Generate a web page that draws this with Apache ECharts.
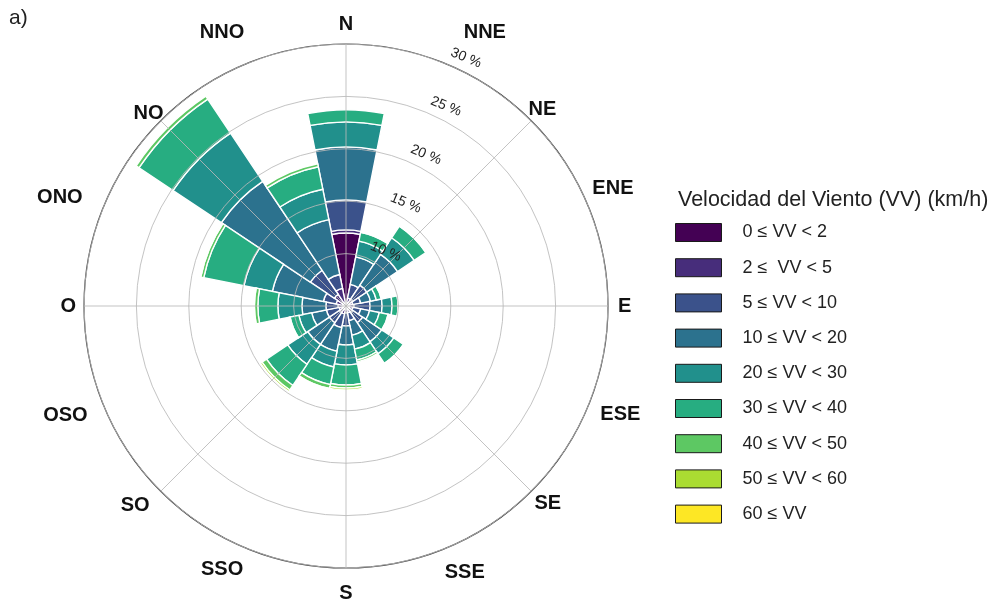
<!DOCTYPE html>
<html>
<head>
<meta charset="utf-8">
<script src="https://cdn.jsdelivr.net/npm/echarts@6/dist/echarts.min.js"></script>
<style>
  html, body { margin: 0; padding: 0; background: #ffffff; }
  #chart { width: 995px; height: 601px; }
</style>
</head>
<body>
<div id="chart"></div>
<script>
// Wind direction sectors, clockwise from north
const directions = ['N', 'NNE', 'NE', 'ENE', 'E', 'ESE', 'SE', 'SSE', 'S', 'SSO', 'SO', 'OSO', 'O', 'ONO', 'NO', 'NNO'];

// Wind speed classes and their viridis colours
const speedClasses = ['0 ≤ VV < 2', '2 ≤  VV < 5', '5 ≤ VV < 10', '10 ≤ VV < 20', '20 ≤ VV < 30',
                      '30 ≤ VV < 40', '40 ≤ VV < 50', '50 ≤ VV < 60', '60 ≤ VV'];
const classColors = ['#440154', '#472D7B', '#3B528B', '#2C728E', '#21908C',
                     '#27AD81', '#5DC863', '#AADC32', '#FDE725'];

// Frequency (%) of each speed class, per direction (same order as `directions`)
const vv0to2   = [6.97, 0.29, 0.29, 0.29, 0.29, 0.29, 0.29, 0.29, 0.29, 0.29, 0.29, 0.29, 0.29, 0.29, 0.38, 0.19];
const vv2to5   = [0.29, 0.48, 0.48, 0.38, 0.48, 0.38, 0.48, 0.38, 0.38, 0.48, 0.48, 0.38, 0.48, 0.67, 0.95, 1.53];
const vv5to10  = [2.86, 1.34, 1.62, 0.76, 1.53, 0.76, 1.15, 0.76, 1.24, 1.34, 1.15, 1.24, 1.15, 1.24, 2.77, 1.34];
const vv10to20 = [5.06, 2.67, 3.53, 0.95, 1.15, 0.86, 2.19, 1.43, 1.81, 2.29, 2.48, 1.43, 2.29, 4.96, 10.21, 5.34];
const vv20to30 = [2.39, 1.53, 1.91, 0.57, 0.95, 0.95, 1.38, 1.34, 1.91, 1.53, 2.29, 1.24, 2.29, 2.77, 5.53, 2.96];
const vv30to40 = [1.15, 0.86, 1.34, 0.48, 0.57, 0.86, 1.10, 1.05, 1.91, 1.72, 2.43, 0.86, 1.91, 3.91, 3.91, 2.19];
const vv40to50 = [0, 0.05, 0.10, 0.05, 0.05, 0.10, 0.10, 0.19, 0.29, 0.38, 0.52, 0.10, 0.33, 0.29, 0.33, 0.29];
const vv50to60 = [0, 0, 0, 0, 0, 0, 0, 0, 0.19, 0.10, 0.19, 0, 0.10, 0.10, 0, 0];
const vv60up   = [0, 0, 0, 0, 0, 0, 0, 0, 0, 0, 0, 0, 0, 0, 0, 0];

const classValues = [vv0to2, vv2to5, vv5to10, vv10to20, vv20to30, vv30to40, vv40to50, vv50to60, vv60up];

// Radial scale (%): the centre of the rose sits at radialMin
const radialMin = 5;
const radialMax = 30;
const radialStep = 5;

const CENTER = [346, 306];
const RADIUS = 262;
const FONT = 'Liberation Sans, Arial, Helvetica, sans-serif';

// Extra spacing [top, right, bottom, left] around each compass label
const compassLabelPadding = {
  N:   [0, 0, 14, 0],  NNE: [0, 0, 25, 19], NE:  [0, 0, 4, 0],   ENE: [0, 0, 9, 8],
  E:   [0, 0, 0, 14],  ESE: [0, 0, 0, 16],  SE:  [5, 0, 0, 6],   SSE: [18, 0, 0, 0],
  S:   [19, 0, 0, 0],  SSO: [15, 4, 0, 0],  SO:  [7, 14, 0, 0],  OSO: [1, 20, 0, 0],
  O:   [3, 12, 0, 0],  ONO: [0, 25, 0, 0],  NO:  [0, 0, 0, 0],   NNO: [0, 3, 25, 0]
};

// Invisible base so every stack starts at the centre of the rose
const series = [{
  type: 'bar',
  name: 'base',
  coordinateSystem: 'polar',
  polarIndex: 0,
  stack: 'rosa',
  barCategoryGap: '0%',
  silent: true,
  data: directions.map(() => radialMin),
  itemStyle: { color: 'rgba(0,0,0,0)', borderWidth: 0 }
}];

speedClasses.forEach((name, k) => {
  series.push({
    type: 'bar',
    name: name,
    coordinateSystem: 'polar',
    polarIndex: 0,
    stack: 'rosa',
    barCategoryGap: '0%',
    data: classValues[k].map(v => (v > 0 ? v : null)),
    itemStyle: { color: classColors[k], borderColor: '#ffffff', borderWidth: 1.4 },
    emphasis: { disabled: true }
  });
});

const chart = echarts.init(document.getElementById('chart'), null, { renderer: 'canvas' });

chart.setOption({
  animation: false,
  backgroundColor: '#ffffff',
  textStyle: { fontFamily: FONT },
  title: [
    { text: 'a)', left: 4, top: 3, textStyle: { fontSize: 21, fontWeight: 'normal', color: '#222', fontFamily: FONT } },
    { text: 'Velocidad del Viento (VV) (km/h)', left: 673, top: 184,
      textStyle: { fontSize: 21.5, fontWeight: 'normal', color: '#222', fontFamily: FONT } }
  ],
  legend: {
    data: speedClasses,
    orient: 'vertical',
    left: 675,
    top: 223,
    padding: 0,
    icon: 'rect',
    itemWidth: 46,
    itemHeight: 18,
    itemGap: 16.2,
    selectedMode: false,
    itemStyle: { borderColor: '#1a1a1a', borderWidth: 1 },
    textStyle: { fontSize: 18, color: '#222', fontFamily: FONT, padding: [0, 0, 0, 16] }
  },
  polar: [
    { center: CENTER, radius: RADIUS },
    { center: CENTER, radius: RADIUS },
    { center: CENTER, radius: RADIUS }
  ],
  angleAxis: [
    { // direction sectors
      polarIndex: 0,
      type: 'category',
      data: directions.map(d => ({ value: d, textStyle: { padding: compassLabelPadding[d] } })),
      startAngle: 90 + 360 / directions.length / 2,
      clockwise: true,
      boundaryGap: true,
      axisLine: { show: true, lineStyle: { color: '#3a3a3a', width: 1.2 } },
      axisTick: { show: false },
      splitLine: { show: false },
      axisLabel: { show: true, margin: -4, fontSize: 20, fontWeight: 'bold', color: '#111', fontFamily: FONT }
    },
    { // radial grid lines every 45 degrees, drawn above the bars
      polarIndex: 1,
      type: 'category',
      data: ['', '', '', '', '', '', '', ''],
      startAngle: 90,
      boundaryGap: true,
      z: 5,
      axisLine: { show: false },
      axisTick: { show: false },
      axisLabel: { show: false },
      splitLine: { show: true, lineStyle: { color: 'rgba(185,185,185,0.85)', width: 1 } }
    },
    { // carries the ring labels direction
      polarIndex: 2,
      type: 'value',
      startAngle: 90 - 22.5,
      show: false
    }
  ],
  radiusAxis: [
    {
      polarIndex: 0,
      type: 'value',
      min: radialMin, max: radialMax, interval: radialStep,
      axisLine: { show: false }, axisTick: { show: false },
      axisLabel: { show: false }, splitLine: { show: false }
    },
    {
      polarIndex: 1,
      type: 'value',
      min: radialMin, max: radialMax, interval: radialStep,
      z: 5,
      axisLine: { show: false }, axisTick: { show: false },
      axisLabel: { show: false },
      splitLine: { show: true, lineStyle: { color: 'rgba(185,185,185,0.85)', width: 1 } }
    },
    {
      polarIndex: 2,
      type: 'value',
      min: radialMin, max: radialMax, interval: radialStep,
      z: 6,
      axisLine: { show: false }, axisTick: { show: false }, splitLine: { show: false },
      axisLabel: {
        show: true,
        formatter: '{value} %',
        rotate: -22.5,
        margin: 0,
        align: 'left',
        verticalAlign: 'bottom',
        padding: [0, 0, 6, 0],
        fontSize: 14,
        color: '#222',
        showMinLabel: false,
        showMaxLabel: true
      }
    }
  ],
  series: series
});
</script>
</body>
</html>
